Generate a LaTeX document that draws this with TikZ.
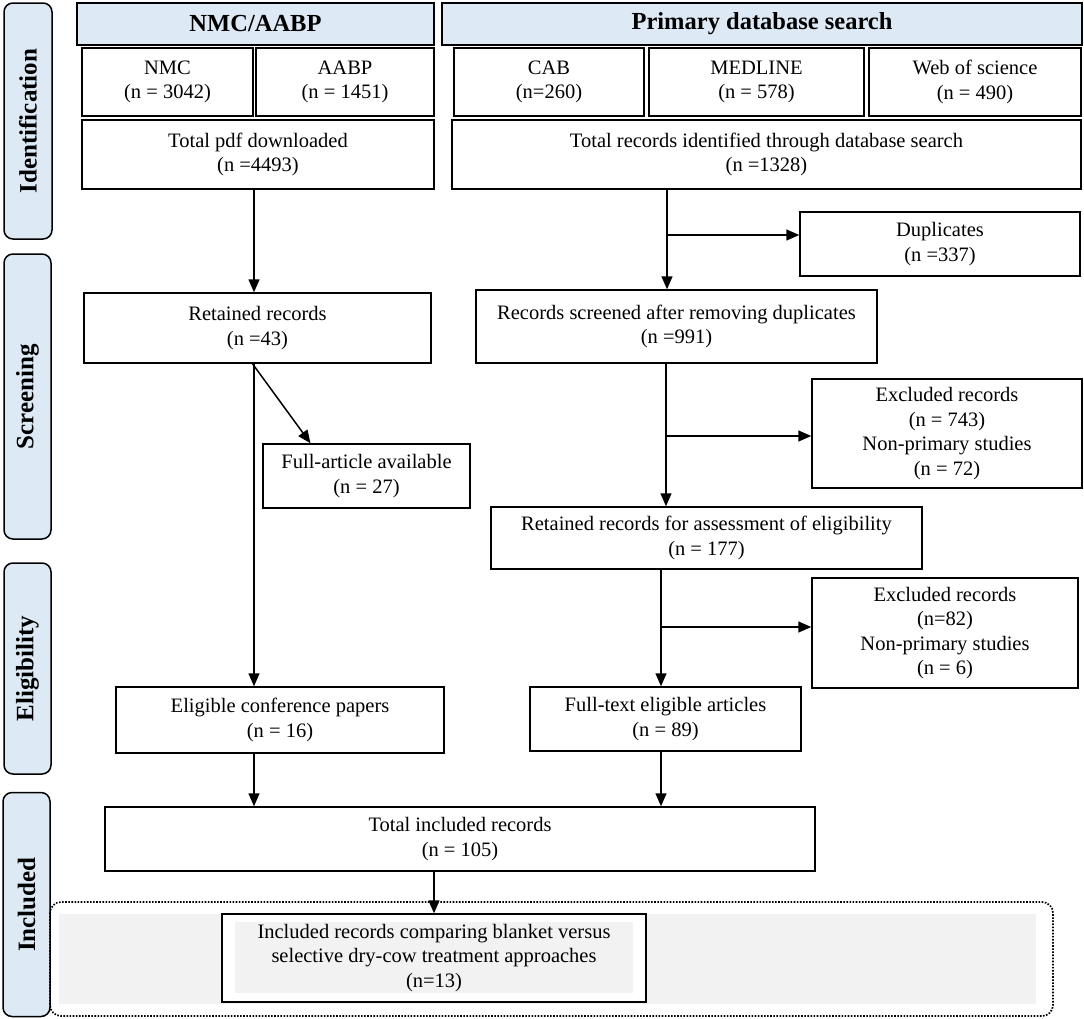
\documentclass[tikz,border=0pt]{standalone}
\usepackage{fontspec}
\setmainfont{Liberation Serif}
\usetikzlibrary{arrows.meta,calc}
\definecolor{hdrblue}{HTML}{DDE9F5}
\definecolor{bandgray}{HTML}{F2F2F2}
\begin{document}
\begin{tikzpicture}[x=1pt,y=-1pt,
 box/.style={draw=black, line width=1.5pt, fill=white, align=center, inner sep=0pt,
   font=\fontsize{20.5}{24.5}\selectfont},
 hdr/.style={draw=black, line width=1.5pt, fill=hdrblue, inner sep=0pt,
   font=\fontsize{24.5}{28}\selectfont\bfseries},
 phase/.style={draw=black, line width=1.5pt, fill=hdrblue, rounded corners=9pt, inner sep=0pt,
   rotate=90, font=\fontsize{25}{28}\selectfont\bfseries},
 arr/.style={line width=1.5pt, -{Triangle[length=13pt,width=11pt]}},
 dotbox/.style={line width=1.7pt, dash pattern=on 1.6pt off 1.5pt, rounded corners=11pt}]
\useasboundingbox (0,0) rectangle (1084,1018);

% phase labels
\node[phase, minimum width=236pt, minimum height=48pt] (pid) at (28,121) {Identification};
\node[phase, minimum width=285pt, minimum height=47pt] (psc) at (27.5,396.5) {Screening};
\node[phase, minimum width=211pt, minimum height=47pt] (pel) at (27.5,668.5) {Eligibility};
\node[phase, minimum width=224pt, minimum height=47pt] (pin) at (26.5,904.5) {Included};

% headers
\node[hdr, minimum width=357pt, minimum height=42pt] (hl) at (255.5,24) {NMC/AABP};
\node[hdr, minimum width=640pt, minimum height=42pt] (hr) at (762,24) {Primary database search};

% identification
\node[box, minimum width=171pt, minimum height=68pt] (nmc) at (167.5,82) {NMC\\(n = 3042)};
\node[box, minimum width=178pt, minimum height=68pt] (aabp) at (345,82) {AABP\\(n = 1451)};
\node[box, minimum width=190pt, minimum height=68pt] (cab) at (549,82) {CAB\\(n=260)};
\node[box, minimum width=215pt, minimum height=68pt] (med) at (756.5,82) {MEDLINE\\(n = 578)};
\node[box, minimum width=212pt, minimum height=68pt] (wos) at (975,82) {Web of science\\(n = 490)};
\node[box, minimum width=352pt, minimum height=69pt] (totpdf) at (258,154.5) {Total pdf downloaded\\(n =4493)};
\node[box, minimum width=629pt, minimum height=69pt] (totrec) at (766.5,154.5) {Total records identified through database search\\(n =1328)};

% screening
\node[box, minimum width=280pt, minimum height=64pt] (dup) at (940,244) {Duplicates\\(n =337)};
\node[box, minimum width=347pt, minimum height=70pt] (ret) at (257.5,328) {Retained records\\(n =43)};
\node[box, minimum width=401pt, minimum height=73pt] (scr) at (676.5,326.5) {Records screened after removing duplicates\\(n =991)};
\node[box, minimum width=207pt, minimum height=64pt] (full) at (366.5,476) {Full-article available\\(n = 27)};
\node[box, minimum width=270pt, minimum height=109pt] (exc1) at (947,433.5) {Excluded records\\(n = 743)\\Non-primary studies\\(n = 72)};

% eligibility
\node[box, minimum width=431pt, minimum height=62pt] (retel) at (706.5,538) {Retained records for assessment of eligibility\\(n = 177)};
\node[box, minimum width=266pt, minimum height=110pt] (exc2) at (945,633) {Excluded records\\(n=82)\\Non-primary studies\\(n = 6)};
\node[box, minimum width=328pt, minimum height=66pt] (elig) at (280,720) {Eligible conference papers\\(n = 16)};
\node[box, minimum width=271pt, minimum height=64pt] (ftext) at (665.5,719) {Full-text eligible articles\\(n = 89)};

% included
\node[box, minimum width=710pt, minimum height=64pt] (totinc) at (460,839) {Total included records\\(n = 105)};
\fill[bandgray] (59,914) rectangle (1036,1004);
\draw[dotbox] (50,902) rectangle (1053,1016);
\node[box, minimum width=424pt, minimum height=88pt,
  path picture={\fill[bandgray] ([xshift=13pt,yshift=9pt]path picture bounding box.south west)
     rectangle ([xshift=-13pt,yshift=-8pt]path picture bounding box.north east);}]
  (final) at (434,958) {Included records comparing blanket versus\\selective dry-cow treatment approaches\\(n=13)};

% connector x positions
\coordinate (xL) at (254,0);
\coordinate (xR1) at (667,0);
\coordinate (xR2) at (666,0);
\coordinate (xR3) at (661,0);
\coordinate (j1) at (667,235);
\coordinate (j2) at (666,436);
\coordinate (j3) at (661,627);

% left column
\draw[arr] (xL |- totpdf.south) -- (xL |- ret.north);
\draw[arr] ([xshift=-5pt]ret.south) -- ([xshift=-56pt]full.north);
\draw[arr] (xL |- ret.south) -- (xL |- elig.north);
\draw[arr] (xL |- elig.south) -- (xL |- totinc.north);

% right column
\draw[arr] (xR1 |- totrec.south) -- (xR1 |- scr.north);
\draw[arr] (j1) -- (j1 -| dup.west);
\draw[arr] (xR2 |- scr.south) -- (xR2 |- retel.north);
\draw[arr] (j2) -- (j2 -| exc1.west);
\draw[arr] (xR3 |- retel.south) -- (xR3 |- ftext.north);
\draw[arr] (j3) -- (j3 -| exc2.west);
\draw[arr] (xR3 |- ftext.south) -- (xR3 |- totinc.north);

% to final
\draw[arr] (final.north |- totinc.south) -- (final.north);
\end{tikzpicture}
\end{document}
